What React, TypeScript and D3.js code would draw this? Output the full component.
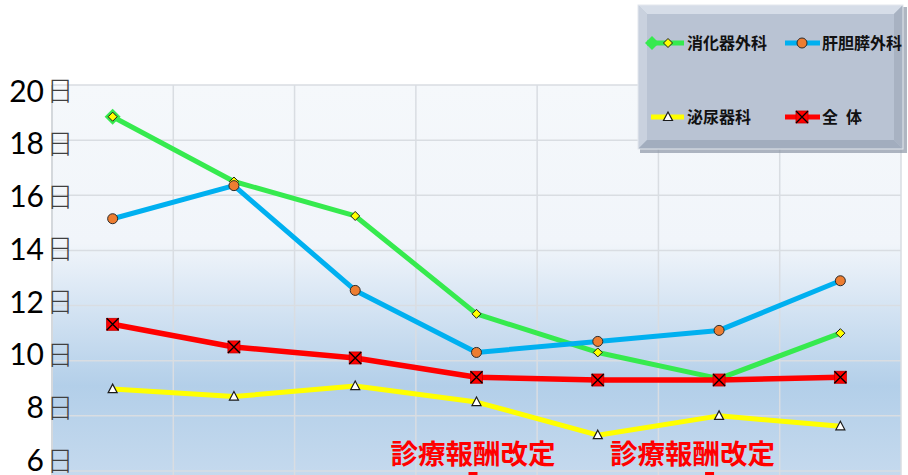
import React from "react";
import * as d3 from "d3";

// Average length of stay by period, per department
const categories = ["1", "2", "3", "4", "5", "6", "7"];
const digestiveSurgery = [18.85, 16.5, 15.25, 11.7, 10.3, 9.35, 11.0];
const hbpSurgery = [15.15, 16.35, 12.55, 10.3, 10.7, 11.1, 12.9];
const urology = [8.97, 8.7, 9.08, 8.5, 7.3, 8.0, 7.62];
const overall = [11.32, 10.5, 10.1, 9.4, 9.3, 9.3, 9.4];

const yTicks = [20, 18, 16, 14, 12, 10, 8, 6];
const tickSuffix = "日";
const seriesNames = ["消化器外科", "肝胆膵外科", "泌尿器科", "全\u2002体"];
const revisionLabel = "診療報酬改定";
const revisionAt = [3, 5]; // category index under which each revision note sits

const W = 908;
const H = 475;
const plot = { left: 52, right: 901, top: 85, bottom: 471 };

const CJK = "'Noto Sans CJK JP', 'Noto Sans', sans-serif";

const colors = {
  green: "#36ea4e",
  blue: "#00b0f0",
  yellow: "#ffff00",
  red: "#ff0000",
};

type Marker = "diamond" | "circle" | "triangle" | "xsquare";

function MarkerShape({ kind, x, y }: { kind: Marker; x: number; y: number }) {
  if (kind === "diamond") {
    const s = 4.5;
    return (
      <path
        d={`M${x},${y - s}L${x + s},${y}L${x},${y + s}L${x - s},${y}Z`}
        fill="#ffff00"
        stroke="#1a1a1a"
        strokeWidth={1}
      />
    );
  }
  if (kind === "circle") {
    return <circle cx={x} cy={y} r={5} fill="#ed7d31" stroke="#2b2b2b" strokeWidth={1} />;
  }
  if (kind === "triangle") {
    return (
      <path
        d={`M${x},${y - 5}L${x + 4.5},${y + 3.5}L${x - 4.5},${y + 3.5}Z`}
        fill="#ffffff"
        stroke="#1a1a1a"
        strokeWidth={1.2}
      />
    );
  }
  const s = 6;
  return (
    <g>
      <rect x={x - s} y={y - s} width={2 * s} height={2 * s} fill="#ff0000" stroke="#c00000" strokeWidth={0.8} />
      <path
        d={`M${x - s},${y - s}L${x + s},${y + s}M${x + s},${y - s}L${x - s},${y + s}`}
        stroke="#000"
        strokeWidth={1.3}
      />
    </g>
  );
}

export default function App() {
  const x = d3.scaleBand<string>().domain(categories).range([plot.left, plot.right]);
  const cx = (i: number) => (x(categories[i]) as number) + x.bandwidth() / 2;
  const y = d3.scaleLinear().domain([6, 20]).range([plot.bottom, plot.top]);
  // tick labels sit in their own column, spaced slightly tighter than the grid
  const yLabel = d3.scaleLinear().domain([6, 20]).range([471, 101.7]);

  const line = d3
    .line<number>()
    .x((_, i) => cx(i))
    .y((d) => y(d));

  const series: { values: number[]; color: string; marker: Marker; width: number }[] = [
    { values: digestiveSurgery, color: colors.green, marker: "diamond", width: 5 },
    { values: hbpSurgery, color: colors.blue, marker: "circle", width: 5 },
    { values: urology, color: colors.yellow, marker: "triangle", width: 5 },
    { values: overall, color: colors.red, marker: "xsquare", width: 5.5 },
  ];

  const bigDiamond = (px: number, py: number, s: number) =>
    `M${px},${py - s}L${px + s},${py}L${px},${py + s}L${px - s},${py}Z`;

  // note text placement relative to its category centre
  const noteShift = [-86, -109];
  const arrowShift = [-8, -14];

  // legend geometry
  const lg = { x0: 638, y0: 5, x1: 903, y1: 149, b: 9 };
  const legendItems = [
    { name: seriesNames[0], color: colors.green, marker: "diamond" as Marker, lx0: 647, lx1: 684, mx: 668, tx: 687, ly: 43 },
    { name: seriesNames[1], color: colors.blue, marker: "circle" as Marker, lx0: 785, lx1: 820, mx: 802, tx: 822, ly: 43 },
    { name: seriesNames[2], color: colors.yellow, marker: "triangle" as Marker, lx0: 651, lx1: 684, mx: 668, tx: 687, ly: 117 },
    { name: seriesNames[3], color: colors.red, marker: "xsquare" as Marker, lx0: 785, lx1: 820, mx: 802, tx: 822, ly: 117 },
  ];

  return (
    <svg
      width={W}
      height={H}
      viewBox={`0 0 ${W} ${H}`}
      style={{ position: "absolute", left: 0, top: 0, background: "#ffffff" }}
    >
      <defs>
        <linearGradient id="plotBg" x1="0" y1="0" x2="0" y2="1">
          <stop offset="0" stopColor="#f5f8fb" />
          <stop offset="0.4" stopColor="#f1f5fa" />
          <stop offset="0.56" stopColor="#d5e4f3" />
          <stop offset="0.76" stopColor="#b3cfe9" />
          <stop offset="1" stopColor="#c6daee" />
        </linearGradient>
      </defs>

      {/* plot area */}
      <rect
        x={plot.left}
        y={plot.top}
        width={plot.right - plot.left}
        height={plot.bottom - plot.top + 10}
        fill="url(#plotBg)"
      />

      {/* gridlines */}
      {yTicks.map((t) => (
        <line key={`h${t}`} x1={plot.left} x2={plot.right} y1={y(t)} y2={y(t)} stroke="#d9dde2" strokeWidth={1.5} />
      ))}
      {categories.map((c) => (
        <line
          key={`v${c}`}
          x1={(x(c) as number) + x.bandwidth()}
          x2={(x(c) as number) + x.bandwidth()}
          y1={plot.top}
          y2={H}
          stroke="#d9dde2"
          strokeWidth={1.5}
        />
      ))}
      <line x1={plot.left} x2={plot.left} y1={plot.top} y2={H} stroke="#d4d8dc" strokeWidth={2} />

      {/* y tick labels */}
      {yTicks.map((t) => (
        <text
          key={`t${t}`}
          x={44}
          y={yLabel(t)}
          textAnchor="end"
          fontFamily="Lato, 'Open Sans', sans-serif"
          fontSize={30}
          fill="#000"
        >
          {t}
        </text>
      ))}
      {yTicks.map((t) => (
        <text
          key={`s${t}`}
          x={46.5}
          y={yLabel(t) - 0.5}
          fontFamily={CJK}
          fontSize={27}
          fontWeight={300}
          fill="#404040"
        >
          {tickSuffix}
        </text>
      ))}

      {/* series lines */}
      {series.map((s, si) => (
        <path
          key={`l${si}`}
          d={line(s.values) as string}
          fill="none"
          stroke={s.color}
          strokeWidth={s.width}
          strokeLinejoin="round"
        />
      ))}
      <path d={bigDiamond(cx(0), y(digestiveSurgery[0]), 8)} fill={colors.green} />
      {series.map((s, si) => (
        <g key={`m${si}`}>
          {s.values.map((v, i) => (
            <MarkerShape key={i} kind={s.marker} x={cx(i)} y={y(v)} />
          ))}
        </g>
      ))}

      {/* revision notes */}
      {revisionAt.map((ci, k) => (
        <g key={`r${k}`}>
          <text
            x={cx(ci) + noteShift[k]}
            y={463.5}
            fontFamily={CJK}
            fontWeight={700}
            fontSize={27.5}
            fill="#ff0000"
          >
            {revisionLabel}
          </text>
          <rect x={cx(ci) + arrowShift[k]} y={472} width={9} height={6} fill="#ff0000" />
        </g>
      ))}

      {/* legend */}
      <g>
        <rect x={lg.x0 + 2} y={lg.y0 + 2} width={lg.x1 - lg.x0 + 2} height={lg.y1 - lg.y0 + 2} fill="#8d97a6" opacity={0.7} />
        <rect x={lg.x0} y={lg.y0} width={lg.x1 - lg.x0} height={lg.y1 - lg.y0} fill="#b9c3d3" />
        <path
          d={`M${lg.x0},${lg.y0}L${lg.x1},${lg.y0}L${lg.x1 - lg.b},${lg.y0 + lg.b}L${lg.x0 + lg.b},${lg.y0 + lg.b}Z`}
          fill="#d6dde8"
        />
        <path
          d={`M${lg.x0},${lg.y0}L${lg.x0 + lg.b},${lg.y0 + lg.b}L${lg.x0 + lg.b},${lg.y1 - lg.b}L${lg.x0},${lg.y1}Z`}
          fill="#c9d1de"
        />
        <path
          d={`M${lg.x1},${lg.y0}L${lg.x1},${lg.y1}L${lg.x1 - lg.b},${lg.y1 - lg.b}L${lg.x1 - lg.b},${lg.y0 + lg.b}Z`}
          fill="#a8b2c2"
        />
        <path
          d={`M${lg.x0},${lg.y1}L${lg.x0 + lg.b},${lg.y1 - lg.b}L${lg.x1 - lg.b},${lg.y1 - lg.b}L${lg.x1},${lg.y1}Z`}
          fill="#a2adbe"
        />
        <rect x={lg.x0} y={lg.y0} width={lg.x1 - lg.x0} height={lg.y1 - lg.y0} fill="none" stroke="#e4e8ee" strokeWidth={1} />
        {legendItems.map((it, i) => (
          <g key={`lg${i}`}>
            <line x1={it.lx0} x2={it.lx1} y1={it.ly} y2={it.ly} stroke={it.color} strokeWidth={5} />
            {i === 0 && <path d={bigDiamond(652, it.ly, 7)} fill={colors.green} />}
            <MarkerShape kind={it.marker} x={it.mx} y={it.ly} />
            <text x={it.tx} y={it.ly + 6} fontFamily={CJK} fontWeight={700} fontSize={16} fill="#111">
              {it.name}
            </text>
          </g>
        ))}
      </g>
    </svg>
  );
}
